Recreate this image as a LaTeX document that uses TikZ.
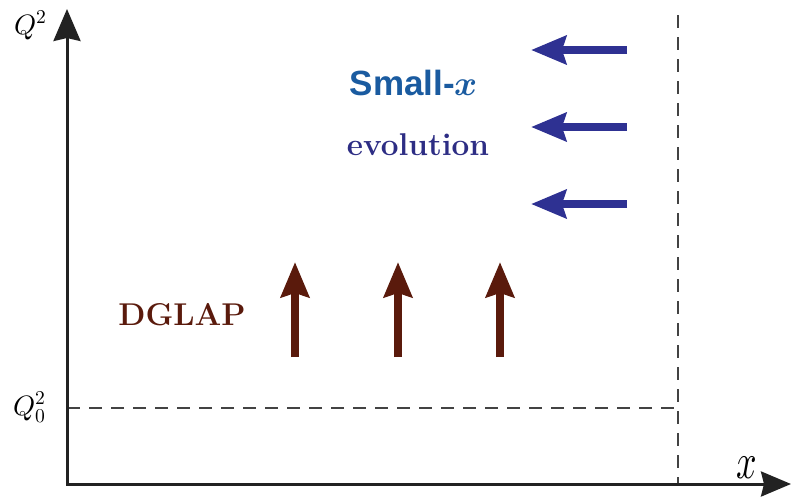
\documentclass[tikz,border=0pt]{standalone}
\usepackage{unicode-math}
\setmathfont{Latin Modern Math}
\newfontfamily\sansbold[BoldFont={Liberation Sans Bold}]{Liberation Sans}
\usetikzlibrary{arrows.meta}
\definecolor{axisgray}{HTML}{222222}
\definecolor{arrowblue}{HTML}{2E3192}
\definecolor{smallblue}{HTML}{1A5BA0}
\definecolor{evoblue}{HTML}{2D2D84}
\definecolor{dglapbrown}{HTML}{5A1A0C}
\tikzset{
  axisline/.style={line width=3pt, color=axisgray},
  dashline/.style={line width=1.2pt, color=axisgray!85, dash pattern=on 13pt off 9pt},
  bluearrow/.style={line width=8pt, color=arrowblue, -{Stealth[length=35pt,width=28pt,inset=4pt]}},
  brownarrow/.style={line width=8pt, color=dglapbrown, -{Stealth[length=35pt,width=28pt,inset=4pt]}},
  lbl/.style={inner sep=0pt, anchor=base}
}
\begin{document}
\begin{tikzpicture}[x=1pt,y=-1pt]
\useasboundingbox (0,0) rectangle (792,498);
% axes
\coordinate (ytip) at (67,9);
\coordinate (orig) at (67,484);
\coordinate (xtip) at (791,484);
\coordinate (dvtop) at (678,15);
\coordinate (dvbot) at (678,484);
\coordinate (dhl) at (67,408);
\coordinate (dhr) at (678,408);
\draw[dashline] (dvtop) -- (dvbot);
\draw[dashline] (dhl) -- (dhr);
\draw[axisline, {Stealth[length=32pt,width=27pt,inset=3pt]}-{Stealth[length=30pt,width=25pt,inset=3pt]}] (ytip) -- (orig) -- (xtip);
% axis labels
\node[lbl] (qlab) at (31,34) {\fontsize{28}{32}\selectfont $Q^2$};
\node[lbl] (q0lab) at (30,415) {\fontsize{28}{32}\selectfont $Q_0^2$};
\node[lbl, xscale=0.72] (xlab) at (747,478) {\fontsize{50}{56}\selectfont $x$};
% small-x arrows
\foreach \y/\n in {50/a,127/b,204/c}{
  \coordinate (bs\n) at (627,\y);
  \coordinate (be\n) at (531,\y);
  \draw[bluearrow] (bs\n) -- (be\n);
}
% DGLAP arrows
\foreach \x/\n in {295/a,398/b,500/c}{
  \coordinate (us\n) at (\x,357);
  \coordinate (ue\n) at (\x,262);
  \draw[brownarrow] (us\n) -- (ue\n);
}
% texts
\node[lbl, color=smallblue] (smallx) at (414,95) {\fontsize{35}{40}\selectfont\sansbold\bfseries Small-$\mathbfit{x}$};
\node[lbl, color=evoblue] (evo) at (418,155) {\fontsize{31.5}{36}\selectfont\bfseries evolution};
\node[lbl, color=dglapbrown] (dglap) at (182,325) {\fontsize{31.5}{36}\selectfont\bfseries DGLAP};
\end{tikzpicture}
\end{document}
